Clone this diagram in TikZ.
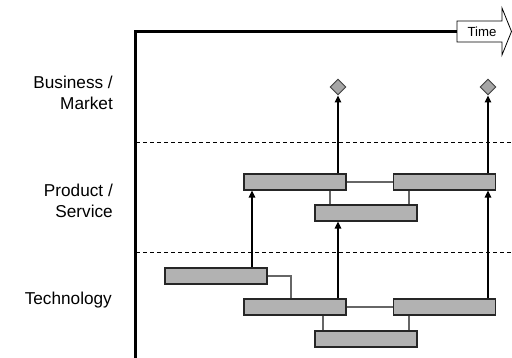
\documentclass[tikz,border=0pt]{standalone}
\usepackage{fontspec}
\setmainfont{Liberation Sans}
\usetikzlibrary{arrows.meta,shapes.geometric}
\begin{document}
\begin{tikzpicture}[x=1pt,y=-1pt,
  bar/.style={draw=black!85,line width=1.1pt,fill=black!30,minimum width=102pt,minimum height=16pt,inner sep=0pt},
  link/.style={draw=black!60,line width=1.1pt},
  upar/.style={draw=black,line width=1.3pt,-{Triangle[length=7pt,width=6.5pt]}},
  mile/.style={diamond,draw=black!75,line width=0.9pt,fill=black!35,minimum width=16pt,minimum height=16pt,inner sep=0pt},
  lab/.style={font=\fontsize{17.2}{21.5}\selectfont,align=right,anchor=east,inner sep=0pt},
  sep/.style={draw=black,line width=0.8pt,dash pattern=on 4pt off 3pt}]
\useasboundingbox (0,0) rectangle (512,358);
% labels
\node[lab] (lb) at (113,93) {Business /\\Market};
\node[lab] (lp) at (113,201) {Product /\\Service};
\node[lab] (lt) at (112,300) {Technology};
% separators
\coordinate (s1a) at (136,142); \coordinate (s1b) at (512,142);
\coordinate (s2a) at (136,252); \coordinate (s2b) at (512,252);
\draw[sep] (s1a) -- (s1b);
\draw[sep] (s2a) -- (s2b);
% axes
\coordinate (ax0) at (135.5,358); \coordinate (ax1) at (135.5,32); \coordinate (ax2) at (458,32);
\draw[line width=3pt,line join=miter] (ax0) -- (ax1) -- (ax2);
% time arrow
\draw[line width=0.8pt,fill=white,line join=miter] (457,21) -- (502,21) -- (502,8) -- (511.5,31.5) -- (502,55) -- (502,42) -- (457,42) -- cycle;
\node[font=\fontsize{13.2}{15}\selectfont,inner sep=0pt] (time) at (482,32) {Time};
% bars
\node[bar] (P1) at (295,182) {};
\node[bar] (P2) at (444.5,182) {};
\node[bar] (P3) at (366,213) {};
\node[bar] (T1) at (216,276) {};
\node[bar] (T2) at (295,307) {};
\node[bar] (T3) at (444.5,307) {};
\node[bar] (T4) at (366,339) {};
% milestones
\node[mile] (D1) at (338,87) {};
\node[mile] (D2) at (488,87) {};
% links
\draw[link] (P1.east) -- (P2.west);
\draw[link] (P1.south -| 330,0) -- (P3.north -| 330,0);
\draw[link] (P2.south -| 409,0) -- (P3.north -| 409,0);
\draw[link] (T1.east) -| (T2.north -| 291,0);
\draw[link] (T2.east) -- (T3.west);
\draw[link] (T2.south -| 323,0) -- (T4.north -| 323,0);
\draw[link] (T3.south -| 409,0) -- (T4.north -| 409,0);
% arrows
\draw[upar] (T1.north -| 252,0) -- (P1.south -| 252,0);
\draw[upar] (T2.north -| 338,0) -- (P3.south -| 338,0);
\draw[upar] (T3.north -| 488,0) -- (P2.south -| 488,0);
\draw[upar] (P1.north -| 338,0) -- (D1.south);
\draw[upar] (P2.north -| 488,0) -- (D2.south);
\end{tikzpicture}
\end{document}
